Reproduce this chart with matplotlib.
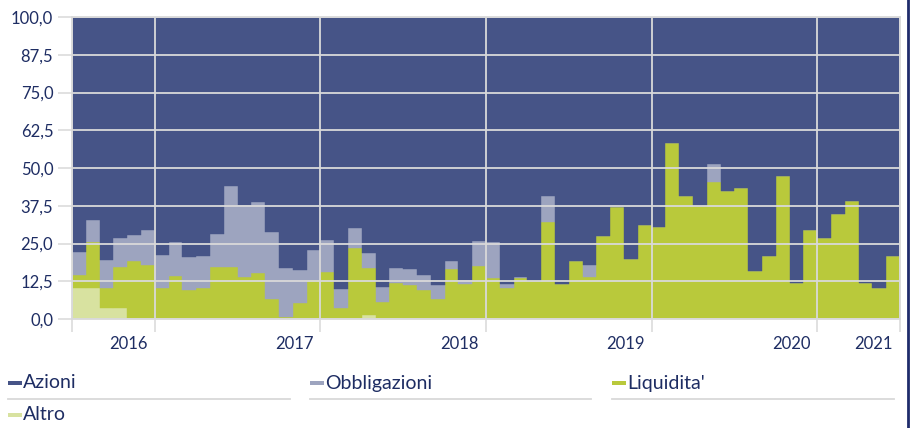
import matplotlib
matplotlib.use("Agg")
import matplotlib.pyplot as plt
from matplotlib.patches import Rectangle
from matplotlib.lines import Line2D

plt.rcParams['font.family'] = ['Lato', 'DejaVu Sans']

# monthly data Jul 2016 - Jun 2021 (percent)
months = ["2016-07", "2016-08", "2016-09", "2016-10", "2016-11", "2016-12",
          "2017-01", "2017-02", "2017-03", "2017-04", "2017-05", "2017-06",
          "2017-07", "2017-08", "2017-09", "2017-10", "2017-11", "2017-12",
          "2018-01", "2018-02", "2018-03", "2018-04", "2018-05", "2018-06",
          "2018-07", "2018-08", "2018-09", "2018-10", "2018-11", "2018-12",
          "2019-01", "2019-02", "2019-03", "2019-04", "2019-05", "2019-06",
          "2019-07", "2019-08", "2019-09", "2019-10", "2019-11", "2019-12",
          "2020-01", "2020-02", "2020-03", "2020-04", "2020-05", "2020-06",
          "2020-07", "2020-08", "2020-09", "2020-10", "2020-11", "2020-12",
          "2021-01", "2021-02", "2021-03", "2021-04", "2021-05", "2021-06"]

altro = [10.2, 10.4, 3.8, 3.8, 0, 0,
         0, 0, 0, 0, 0, 0,
         0, 0, 0, 0, 0, 0,
         0, 0, 0, 1.3, 0, 0.4,
         0, 0, 0, 0, 0, 0,
         0, 0, 0, 0, 0, 0,
         0, 0, 0, 0, 0, 0,
         0, 0, 0, 0, 0, 0,
         0, 0, 0, 0, 0, 0,
         0, 0, 0, 0, 0, 0]

liquidita = [4.4, 15.1, 6.4, 13.4, 19.3, 18.0,
             10.2, 14.3, 9.6, 10.3, 17.2, 17.2,
             14.0, 15.2, 6.7, 0.8, 5.4, 12.9,
             15.7, 3.5, 23.4, 15.7, 5.6, 11.5,
             11.3, 9.6, 6.5, 16.5, 11.7, 17.5,
             13.5, 10.2, 13.6, 12.6, 32.2, 11.5,
             19.2, 13.9, 27.5, 37.1, 20.0, 31.0,
             30.3, 58.2, 40.8, 37.5, 45.4, 42.4,
             43.3, 15.9, 20.9, 47.4, 12.0, 29.6,
             26.7, 34.8, 39.1, 11.8, 10.2, 20.9]

obbligazioni = [7.6, 7.4, 9.4, 9.5, 8.5, 11.4,
                11.1, 11.2, 11.0, 10.5, 11.1, 26.9,
                23.6, 23.4, 22.1, 16.2, 10.8, 10.0,
                10.3, 6.3, 6.7, 5.0, 5.0, 5.1,
                5.1, 5.1, 4.8, 2.7, 1.1, 8.2,
                11.9, 1.5, 0.2, 0, 8.4, 0.2,
                0, 4.0, 0, 0, 0, 0,
                0, 0, 0, 0, 5.9, 0,
                0, 0, 0, 0, 0, 0,
                0, 0, 0, 0, 0, 0]

azioni = [77.8, 67.1, 80.4, 73.3, 72.2, 70.6,
          78.7, 74.5, 79.4, 79.2, 71.7, 55.9,
          62.4, 61.4, 71.2, 83.0, 83.8, 77.1,
          74.0, 90.2, 69.9, 78.0, 89.4, 83.0,
          83.6, 85.3, 88.7, 80.8, 87.2, 74.3,
          74.6, 88.3, 86.2, 87.4, 59.4, 88.3,
          80.8, 82.1, 72.5, 62.9, 80.0, 69.0,
          69.7, 41.8, 59.2, 62.5, 48.7, 57.6,
          56.7, 84.1, 79.1, 52.6, 88.0, 70.4,
          73.3, 65.2, 60.9, 88.2, 89.8, 79.1]

year_labels = ["2016", "2017", "2018", "2019", "2020", "2021"]
y_ticks = [0, 12.5, 25, 37.5, 50, 62.5, 75, 87.5, 100]

series_names = ["Azioni", "Obbligazioni", "Liquidita'", "Altro"]
colors = {"Azioni": "#465487", "Obbligazioni": "#9da4bf",
          "Liquidita'": "#b9c93b", "Altro": "#d8e2a0"}
text_color = "#1e2d63"
grid_color = "#d9d9d9"

W, H = 913, 428
fig = plt.figure(figsize=(W / 100, H / 100), dpi=100)
ax = fig.add_axes([72 / W, 1 - 319 / H, (900 - 72) / W, (319 - 17) / H])

x = list(range(len(months)))
bottom = [0.0] * len(x)
for name, vals in [("Altro", altro), ("Liquidita'", liquidita),
                   ("Obbligazioni", obbligazioni), ("Azioni", azioni)]:
    ax.bar(x, vals, width=1.0, align='edge', bottom=bottom,
           color=colors[name], edgecolor=colors[name], linewidth=0.3, zorder=1)
    bottom = [b + v for b, v in zip(bottom, vals)]

ax.set_xlim(0, len(x))
ax.set_ylim(0, 100)

# year boundaries from the month list
years = [m[:4] for m in months]
bounds = [0]
for i in range(1, len(years)):
    if years[i] != years[i - 1]:
        bounds.append(i)
bounds.append(len(years))

ax.set_xticks(bounds)
ax.set_xticklabels([])
ax.set_yticks(y_ticks)
ax.set_yticklabels([f"{v:.1f}".replace(".", ",") for v in y_ticks])

ax.set_axisbelow(False)
ax.grid(True, color=grid_color, linewidth=1.3, zorder=3)
ax.tick_params(axis='y', length=10, width=1.1, color=grid_color, pad=3.5,
               labelsize=12, labelcolor=text_color)
ax.tick_params(axis='x', length=9.5, width=1.1, color=grid_color)
for s in ax.spines.values():
    s.set_color(grid_color)
    s.set_linewidth(1.3)

# year labels right-aligned just before each year boundary
for lab, b in zip(year_labels, bounds[1:]):
    ax.annotate(lab, xy=(b, 0), xycoords='data', xytext=(-5, -12),
                textcoords='offset points', ha='right', va='top',
                fontsize=12, color=text_color)

# legend (manual, with underlines)
def fx(px):
    return px / W

def fy(py):
    return 1 - py / H

legend_items = [("Azioni", 8, 383, 290), ("Obbligazioni", 310, 383, 591),
                ("Liquidita'", 612, 383, 894), ("Altro", 8, 415, None)]
for name, lx, ly, uend in legend_items:
    fig.add_artist(Rectangle((fx(lx), fy(ly + 2)), fx(14), 4 / H,
                             transform=fig.transFigure, color=colors[name],
                             linewidth=0))
    fig.text(fx(lx + 15), fy(ly), name, fontsize=14, color=text_color,
             ha='left', va='center')
    if uend is not None:
        fig.add_artist(Line2D([fx(lx), fx(uend)], [fy(399), fy(399)],
                              transform=fig.transFigure, color=grid_color,
                              linewidth=1.3))

# right border line
fig.add_artist(Line2D([fx(908), fx(908)], [0, 1], transform=fig.transFigure,
                      color="#1f2c6b", linewidth=2))

fig.savefig("out.png", dpi=100)
